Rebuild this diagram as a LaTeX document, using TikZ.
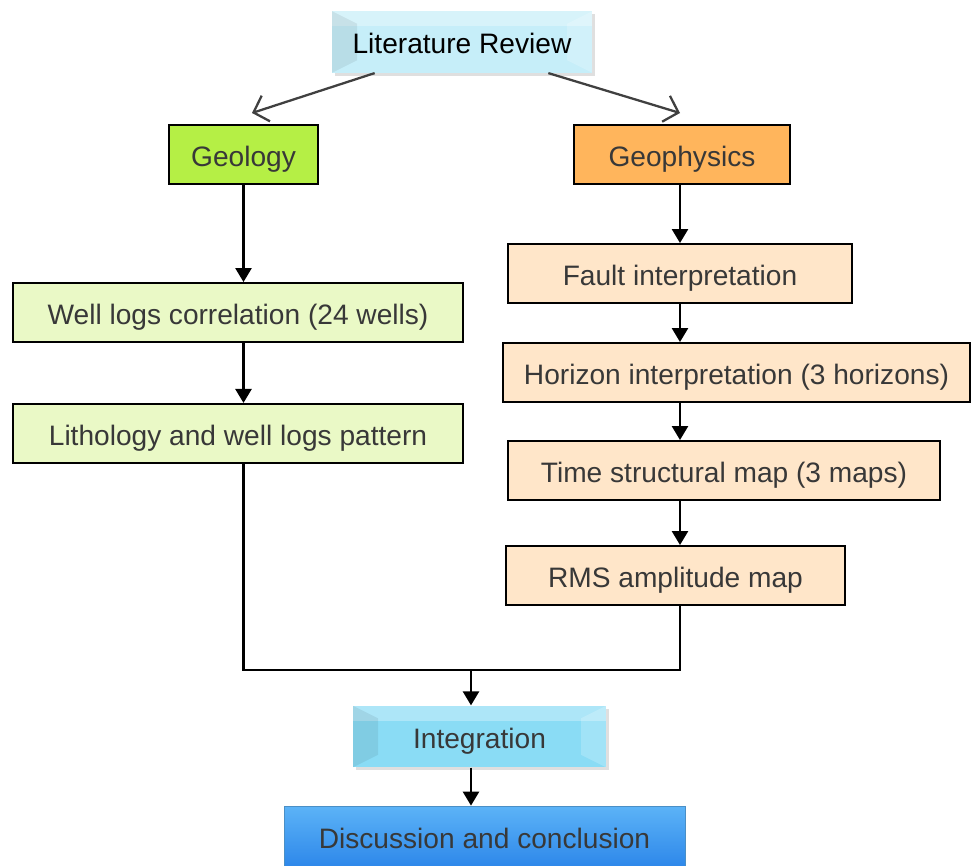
\documentclass[tikz,border=0pt]{standalone}
\usepackage{fontspec}
\setmainfont{Liberation Sans}
\usepackage{xcolor}
\usetikzlibrary{positioning, arrows.meta, shadows}

\definecolor{litblue}{HTML}{C6EEF9}
\definecolor{intblue}{HTML}{8ADCF5}
\definecolor{geogreen}{HTML}{B5EF45}
\definecolor{geoorange}{HTML}{FFB55C}
\definecolor{palegreen}{HTML}{EAF9C6}
\definecolor{paleorange}{HTML}{FFE6C9}
\definecolor{disctop}{HTML}{5CB3F7}
\definecolor{discbot}{HTML}{2E88EA}
\definecolor{txtgray}{HTML}{383838}

\begin{document}
\begin{tikzpicture}[
    box/.style={draw, line width=1.1pt, minimum height=1.18cm, inner sep=0pt, text=txtgray,
        text height=.58cm, text depth=.1cm, font=\fontsize{16}{18}\selectfont},
    bevelbox/.style={minimum height=1.23cm, inner sep=0pt, text height=.58cm, text depth=.1cm,
        font=\fontsize{16}{18}\selectfont,
        drop shadow={opacity=.25, shadow xshift=.05cm, shadow yshift=-.06cm},
        path picture={
            \fill[white, opacity=.3] (path picture bounding box.north west) rectangle ([yshift=-.3cm]path picture bounding box.north east);
            \fill[black, opacity=.07] (path picture bounding box.north west) -- ([xshift=.5cm, yshift=-.25cm]path picture bounding box.north west)
                -- ([xshift=.5cm, yshift=.25cm]path picture bounding box.south west) -- (path picture bounding box.south west) -- cycle;
            \fill[white, opacity=.2] (path picture bounding box.north east) -- ([xshift=-.5cm, yshift=-.25cm]path picture bounding box.north east)
                -- ([xshift=-.5cm, yshift=.25cm]path picture bounding box.south east) -- (path picture bounding box.south east) -- cycle;
        }},
    arrow/.style={-{Triangle[length=2.8mm, width=3.2mm]}, line width=1.4pt},
    open_arrow/.style={-{Straight Barb[length=2.6mm, width=5.4mm]}, line width=1.3pt, draw=black!75},
    line/.style={line width=1.4pt}
]
\useasboundingbox (0,0) rectangle (19.42,-17.32);

% Top
\node[bevelbox, fill=litblue, minimum width=5.2cm] (lit) at (9.24,-0.84) {Literature Review};
\node[box, fill=geogreen, minimum width=2.98cm] (geology) at (4.87,-3.09) {Geology};
\node[box, fill=geoorange, minimum width=4.32cm] (geophys) at (13.64,-3.09) {Geophysics};

% Geology column
\node[box, fill=palegreen, minimum width=9cm] (welllogs) at (4.76,-6.25) {Well logs correlation (24 wells)};
\node[box, fill=palegreen, minimum width=9cm, below=1.2cm of welllogs] (litho) {Lithology and well logs pattern};

% Geophysics column
\node[box, fill=paleorange, minimum width=6.88cm] (fault) at (13.6,-5.47) {Fault interpretation};
\node[box, fill=paleorange, minimum width=9.34cm] (horizon) at (14.73,-7.45) {Horizon interpretation (3 horizons)};
\node[box, fill=paleorange, minimum width=8.64cm] (timemap) at (14.48,-9.41) {Time structural map (3 maps)};
\node[box, fill=paleorange, minimum width=6.78cm] (rms) at (13.51,-11.51) {RMS amplitude map};

% Bottom
\coordinate (join) at (9.42,-13.4);
\node[bevelbox, fill=intblue, minimum width=5.06cm, text=txtgray] (integ) at (9.59,-14.73) {Integration};
\node[minimum width=8.02cm, minimum height=1.2cm, inner sep=0pt, top color=disctop, bottom color=discbot, draw=disctop!80!black, text=txtgray,
      text height=.58cm, text depth=.1cm, font=\fontsize{16}{18}\selectfont] (disc) at (9.69,-16.72) {Discussion and conclusion};

% Literature arrows
\coordinate (geoL) at (5.04,-2.26);
\coordinate (geoR) at (13.6,-2.26);
\draw[open_arrow] ([xshift=.86cm]lit.south west) -- (geoL);
\draw[open_arrow] ([xshift=-.88cm]lit.south east) -- (geoR);

% Column arrows
\draw[arrow] (geology) -- (geology |- welllogs.north);
\draw[arrow] (geology |- welllogs.south) -- (geology |- litho.north);
\draw[arrow] (geophys.south -| fault) -- (fault);
\draw[arrow] (fault) -- (fault |- horizon.north);
\draw[arrow] (fault |- horizon.south) -- (fault |- timemap.north);
\draw[arrow] (fault |- timemap.south) -- (fault |- rms.north);

% Merge
\draw[line] (geology |- litho.south) -- (geology |- join) -- (fault |- join) -- (fault |- rms.south);
\draw[arrow] (join) -- (join |- integ.north);
\draw[arrow] (join |- integ.south) -- (join |- disc.north);

\end{tikzpicture}
\end{document}
